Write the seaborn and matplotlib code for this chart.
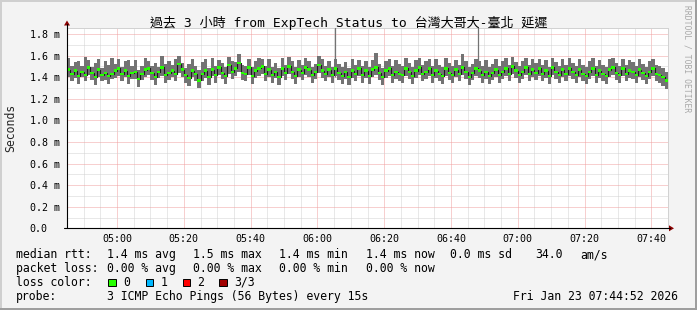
import numpy as np
import pandas as pd
import matplotlib
matplotlib.use("Agg")
import matplotlib.pyplot as plt
from matplotlib.patches import Rectangle, Polygon
from matplotlib.lines import Line2D
import seaborn as sns

W, H = 697, 310

# ---------------- data (ms, one value per minute, 04:45 -> 07:45) ----------------
median_ms = [
    1.47, 1.43, 1.46, 1.41, 1.45, 1.42, 1.49, 1.44, 1.40, 1.47,
    1.42, 1.44, 1.41, 1.43, 1.46, 1.48, 1.43, 1.46, 1.41, 1.44,
    1.45, 1.38, 1.43, 1.47, 1.48, 1.44, 1.40, 1.45, 1.49, 1.42,
    1.44, 1.46, 1.43, 1.52, 1.47, 1.42, 1.39, 1.46, 1.43, 1.37,
    1.43, 1.46, 1.40, 1.47, 1.42, 1.49, 1.44, 1.41, 1.51, 1.45,
    1.48, 1.53, 1.44, 1.43, 1.49, 1.41, 1.46, 1.48, 1.50, 1.43,
    1.47, 1.42, 1.45, 1.40, 1.48, 1.44, 1.50, 1.45, 1.41, 1.47,
    1.44, 1.49, 1.47, 1.42, 1.45, 1.51, 1.46, 1.43, 1.47, 1.42,
    1.48, 1.44, 1.41, 1.45, 1.40, 1.46, 1.43, 1.48, 1.42, 1.46,
    1.41, 1.47, 1.49, 1.44, 1.40, 1.46, 1.48, 1.42, 1.45, 1.43,
    1.42, 1.48, 1.45, 1.41, 1.46, 1.49, 1.43, 1.45, 1.48, 1.42,
    1.46, 1.43, 1.41, 1.48, 1.44, 1.42, 1.47, 1.43, 1.49, 1.45,
    1.40, 1.44, 1.48, 1.46, 1.42, 1.45, 1.41, 1.44, 1.47, 1.42,
    1.45, 1.48, 1.43, 1.50, 1.46, 1.42, 1.45, 1.49, 1.43, 1.47,
    1.44, 1.48, 1.43, 1.46, 1.41, 1.49, 1.45, 1.42, 1.47, 1.43,
    1.48, 1.45, 1.42, 1.47, 1.43, 1.41, 1.45, 1.48, 1.42, 1.46,
    1.43, 1.41, 1.47, 1.49, 1.44, 1.42, 1.48, 1.43, 1.46, 1.45,
    1.42, 1.47, 1.44, 1.41, 1.45, 1.48, 1.43, 1.42, 1.40, 1.37,
]
hi_ms = [
    1.58, 1.50, 1.54, 1.55, 1.50, 1.59, 1.56, 1.49, 1.53, 1.57,
    1.48, 1.55, 1.51, 1.58, 1.52, 1.57, 1.49, 1.55, 1.56, 1.50,
    1.56, 1.47, 1.50, 1.58, 1.55, 1.50, 1.53, 1.49, 1.60, 1.52,
    1.55, 1.51, 1.57, 1.60, 1.53, 1.48, 1.52, 1.57, 1.50, 1.47,
    1.54, 1.57, 1.48, 1.58, 1.50, 1.56, 1.53, 1.49, 1.59, 1.55,
    1.54, 1.61, 1.51, 1.50, 1.57, 1.49, 1.55, 1.58, 1.57, 1.50,
    1.57, 1.49, 1.53, 1.48, 1.58, 1.51, 1.59, 1.55, 1.49, 1.56,
    1.51, 1.58, 1.55, 1.49, 1.52, 1.60, 1.57, 1.50, 1.55, 1.49,
    1.57, 1.52, 1.49, 1.54, 1.48, 1.57, 1.51, 1.56, 1.50, 1.55,
    1.49, 1.56, 1.62, 1.52, 1.48, 1.55, 1.57, 1.50, 1.56, 1.52,
    1.50, 1.58, 1.53, 1.49, 1.56, 1.58, 1.51, 1.55, 1.57, 1.50,
    1.57, 1.51, 1.49, 1.58, 1.53, 1.50, 1.56, 1.51, 1.61, 1.55,
    1.49, 1.52, 1.57, 1.55, 1.50, 1.56, 1.49, 1.52, 1.57, 1.50,
    1.55, 1.58, 1.51, 1.59, 1.54, 1.50, 1.55, 1.58, 1.51, 1.57,
    1.53, 1.57, 1.51, 1.56, 1.49, 1.58, 1.54, 1.50, 1.57, 1.51,
    1.58, 1.53, 1.50, 1.57, 1.51, 1.49, 1.55, 1.58, 1.50, 1.56,
    1.51, 1.49, 1.57, 1.58, 1.53, 1.50, 1.57, 1.51, 1.56, 1.54,
    1.50, 1.57, 1.52, 1.49, 1.55, 1.57, 1.51, 1.50, 1.48, 1.45,
]
lo_ms = [
    1.40, 1.36, 1.39, 1.34, 1.40, 1.36, 1.42, 1.37, 1.33, 1.40,
    1.36, 1.37, 1.34, 1.38, 1.39, 1.41, 1.36, 1.40, 1.34, 1.38,
    1.38, 1.31, 1.37, 1.40, 1.42, 1.37, 1.33, 1.39, 1.41, 1.35,
    1.37, 1.40, 1.36, 1.44, 1.40, 1.35, 1.32, 1.40, 1.36, 1.30,
    1.36, 1.39, 1.33, 1.41, 1.35, 1.42, 1.38, 1.34, 1.43, 1.38,
    1.41, 1.45, 1.37, 1.36, 1.42, 1.34, 1.39, 1.41, 1.43, 1.36,
    1.40, 1.35, 1.39, 1.33, 1.41, 1.37, 1.43, 1.38, 1.34, 1.40,
    1.37, 1.42, 1.40, 1.35, 1.38, 1.44, 1.39, 1.36, 1.40, 1.35,
    1.41, 1.37, 1.34, 1.38, 1.33, 1.39, 1.36, 1.41, 1.35, 1.39,
    1.34, 1.40, 1.42, 1.37, 1.33, 1.39, 1.41, 1.35, 1.38, 1.36,
    1.35, 1.41, 1.38, 1.34, 1.39, 1.42, 1.36, 1.38, 1.41, 1.35,
    1.39, 1.36, 1.34, 1.41, 1.37, 1.35, 1.40, 1.36, 1.42, 1.38,
    1.33, 1.37, 1.41, 1.39, 1.35, 1.38, 1.34, 1.37, 1.40, 1.35,
    1.38, 1.41, 1.36, 1.43, 1.39, 1.35, 1.38, 1.42, 1.36, 1.40,
    1.37, 1.41, 1.36, 1.39, 1.34, 1.42, 1.38, 1.35, 1.40, 1.36,
    1.41, 1.38, 1.35, 1.40, 1.36, 1.34, 1.38, 1.41, 1.35, 1.39,
    1.36, 1.34, 1.40, 1.42, 1.37, 1.35, 1.41, 1.36, 1.39, 1.38,
    1.35, 1.40, 1.37, 1.34, 1.38, 1.41, 1.36, 1.35, 1.32, 1.29,
]
spike_minutes = [80.3, 123.2]
spike_ms = [1.86, 1.86]

tick_minutes = [15, 35, 55, 75, 95, 115, 135, 155, 175]
tick_labels = ["05:00", "05:20", "05:40", "06:00", "06:20", "06:40", "07:00", "07:20", "07:40"]
ytick_values = [0.0, 0.2, 0.4, 0.6, 0.8, 1.0, 1.2, 1.4, 1.6, 1.8]
ytick_labels = ["0.0", "0.2 m", "0.4 m", "0.6 m", "0.8 m", "1.0 m", "1.2 m", "1.4 m", "1.6 m", "1.8 m"]

title = "過去 3 小時 from ExpTech Status to 台灣大哥大-臺北 延遲"
legend_rows = [
    [("median rtt:", 16), ("1.4 ms avg", 107.3), ("1.5 ms max", 193.3), ("1.4 ms min", 279.3),
     ("1.4 ms now", 366), ("0.0 ms sd", 450), ("34.0", 535), ("am/s", 580)],
    [("packet loss:", 16), ("0.00 % avg", 107.3), ("0.00 % max", 193.3), ("0.00 % min", 279.3),
     ("0.00 % now", 366)],
    [("loss color:", 16), ("0", 123.3), ("1", 160.7), ("2", 197.3), ("3/3", 234.3)],
    [("probe:", 16), ("3 ICMP Echo Pings (56 Bytes) every 15s", 107.3), ("Fri Jan 23 07:44:52 2026", 513.3)],
]
legend_baselines = [258.3, 272.0, 285.8, 299.7]
loss_colors = ["#26ff00", "#00b8ff", "#ff0000", "#a10000"]
loss_box_x = [108.3, 145.7, 182.7, 219.3]

# ---------------- style ----------------
sns.set_style("white")
MONO = ["DejaVu Sans Mono", "Noto Sans CJK TC"]
plt.rcParams["font.family"] = MONO

def fx(x):
    return x / W

def fy(y):
    return 1 - y / H

fig = plt.figure(figsize=(W / 100, H / 100), dpi=100, facecolor="#f3f3f3")
ax_l, ax_r, ax_t, ax_b = 67, 668, 28, 228.3
ax = fig.add_axes([fx(ax_l), fy(ax_b), (ax_r - ax_l) / W, (ax_b - ax_t) / H])
ax.set_facecolor("white")

YMAX = 1.855
ax.set_xlim(0, 180)
ax.set_ylim(0, YMAX)

minutes = np.arange(len(median_ms))
df = pd.DataFrame({"minute": minutes, "median": median_ms, "lo": lo_ms, "hi": hi_ms})

# smoke
ax.bar(df["minute"], df["hi"] - df["lo"], bottom=df["lo"], width=1.0, align="edge",
       color="#737373", linewidth=0, zorder=3)
ax.vlines(spike_minutes, [1.40, 1.40], spike_ms, color="#737373", linewidth=0.9, zorder=3)
# median step line
sns.lineplot(data=df, x="minute", y="median", drawstyle="steps-post", color="#1c1c1c",
             linewidth=0.8, ax=ax, zorder=4, legend=False)
# median marks
ax.bar(df["minute"], 0.022, bottom=df["median"] - 0.011, width=1.0, align="edge",
       color=loss_colors[0], linewidth=0, zorder=5)

# grid
minor_x = [m for m in range(5, 180, 5) if m not in tick_minutes]
minor_y = [0.1, 0.3, 0.5, 0.7, 0.9, 1.1, 1.3, 1.5, 1.7]
ax.set_xticks(tick_minutes, tick_labels)
ax.set_xticks(minor_x, minor=True)
ax.set_yticks(ytick_values, ytick_labels)
ax.set_yticks(minor_y, minor=True)
dot = (0, (1, 1))
ax.grid(which="minor", color="#d2d2d2", linestyle=dot, linewidth=0.72, zorder=1)
ax.grid(which="major", color="#f0a0a0", linestyle=dot, linewidth=0.72, zorder=1)
ax.set_axisbelow(True)

ax.tick_params(axis="x", which="major", length=2, width=0.7, pad=2.4, labelsize=7.2,
               direction="out", colors="black")
ax.tick_params(axis="x", which="minor", length=1.5, width=0.7, direction="out")
ax.tick_params(axis="y", which="major", length=3, width=0.7, pad=24.0, labelsize=7.2,
               direction="out", colors="black")
ax.tick_params(axis="y", which="minor", length=1.5, width=0.7, direction="out")
for t in ax.get_yticklabels():
    t.set_horizontalalignment("left")
ax.set_xlabel("")
ax.set_ylabel("")

for s in ["top", "right"]:
    ax.spines[s].set_visible(True)
    ax.spines[s].set_color("#d2d2d2")
    ax.spines[s].set_linestyle(dot)
    ax.spines[s].set_linewidth(0.72)
for s in ["left", "bottom"]:
    ax.spines[s].set_visible(False)

# axes with arrows (figure pixel coords)
arrow_c = "#8b0000"
fig.add_artist(Line2D([fx(ax_l), fx(ax_l)], [fy(ax_b), fy(24)], color="black", lw=0.8))
fig.add_artist(Line2D([fx(ax_l - 3), fx(670)], [fy(ax_b), fy(ax_b)], color="black", lw=0.8))
fig.add_artist(Polygon([[fx(ax_l - 3), fy(25.5)], [fx(ax_l + 3), fy(25.5)], [fx(ax_l), fy(20.5)]],
                       closed=True, color=arrow_c, lw=0))
fig.add_artist(Polygon([[fx(669), fy(ax_b - 3)], [fx(669), fy(ax_b + 3)], [fx(674), fy(ax_b)]],
                       closed=True, color=arrow_c, lw=0))

# texts
fig.text(fx(348.5), fy(26.5), title, ha="center", va="baseline", fontsize=9.4, color="black")
fig.text(fx(11), fy(127.5), "Seconds", rotation=90, ha="center", va="center", fontsize=8.3)
fig.text(fx(687.5), fy(5), "RRDTOOL / TOBI OETIKER", rotation=270, ha="center", va="top",
         fontsize=5.8, color="#a8a8a8")

for row, base in zip(legend_rows, legend_baselines):
    for txt, x in row:
        fig.text(fx(x), fy(base), txt, ha="left", va="baseline", fontsize=8.3, color="black")

for c, x in zip(loss_colors, loss_box_x):
    fig.add_artist(Rectangle((fx(x), fy(286.3)), 7.3 / W, 7.3 / H, facecolor=c,
                             edgecolor="black", lw=0.7, transform=fig.transFigure))

# 3D frame
fig.add_artist(Rectangle((0, fy(2)), 1, 2 / H, facecolor="#cfcfcf", lw=0, transform=fig.transFigure))
fig.add_artist(Rectangle((0, 0), 2 / W, 1, facecolor="#cfcfcf", lw=0, transform=fig.transFigure))
fig.add_artist(Rectangle((0, 0), 1, 2 / H, facecolor="#9e9e9e", lw=0, transform=fig.transFigure))
fig.add_artist(Rectangle((1 - 2 / W, 0), 2 / W, 1, facecolor="#9e9e9e", lw=0, transform=fig.transFigure))

fig.savefig("out.png", dpi=100, facecolor=fig.get_facecolor())
